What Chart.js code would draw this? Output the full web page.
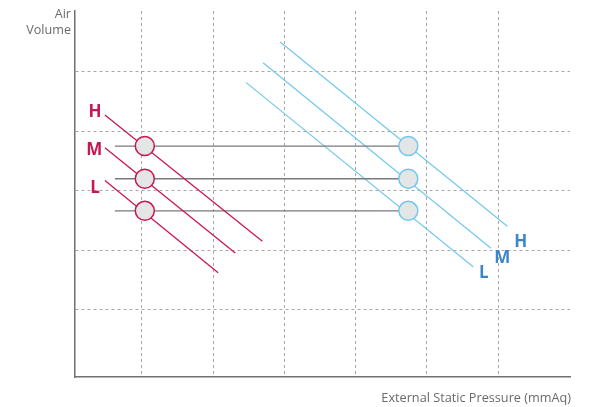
<!DOCTYPE html>
<html>
<head>
<meta charset="utf-8">
<script src="https://cdn.jsdelivr.net/npm/chart.js@4"></script>
<style>
  html, body { margin: 0; padding: 0; background: #fff; }
  #wrap { width: 598px; height: 407px; position: relative; }
</style>
</head>
<body>
<div id="wrap"><canvas id="c" width="598" height="407"></canvas></div>
<script>
// ---- data (axis units: pressure on x, air volume on y) ----
const speeds = ['H', 'M', 'L'];
const xGrid = [1, 2, 3, 4, 5, 6];
const yGrid = [1, 2, 3, 4, 5];
const redStart = [[0.48, 4.27], [0.48, 3.72], [0.48, 3.17]];
const redEnd = [[2.69, 2.15], [2.31, 1.95], [2.07, 1.62]];
const blueStart = [[2.94, 5.50], [2.70, 5.15], [2.46, 4.82]];
const blueEnd = [[6.13, 2.40], [5.90, 2.03], [5.65, 1.72]];
const opVolume = [3.75, 3.20, 2.66];
const redOpPressure = 1.04;
const blueOpPressure = 4.74;
const guideStart = 0.62;
const redLabelPos = [[0.34, 4.32], [0.33, 3.68], [0.34, 3.05]];
const blueLabelPos = [[6.32, 2.13], [6.06, 1.87], [5.80, 1.62]];
const xTitle = 'External Static Pressure (mmAq)';
const yTitle = ['Air', 'Volume'];

const RED = '#c8174f';
const BLUE_LINE = '#72c8ec';
const BLUE_TXT = '#3a86c8';

const pt = p => ({ x: p[0], y: p[1] });
const datasets = [];
speeds.forEach((s, i) => {
  datasets.push({ type: 'line', label: 'red ' + s, data: [pt(redStart[i]), pt(redEnd[i])],
    borderColor: RED, borderWidth: 1.3, pointRadius: 0, order: 2 });
  datasets.push({ type: 'line', label: 'blue ' + s, data: [pt(blueStart[i]), pt(blueEnd[i])],
    borderColor: BLUE_LINE, borderWidth: 1.2, pointRadius: 0, order: 2 });
  datasets.push({ type: 'line', label: 'guide ' + s,
    data: [{ x: guideStart, y: opVolume[i] }, { x: blueOpPressure, y: opVolume[i] }],
    borderColor: '#7a7a7a', borderWidth: 1.3, pointRadius: 0, order: 2 });
});
datasets.push({ type: 'scatter', label: 'red points',
  data: opVolume.map(v => ({ x: redOpPressure, y: v })),
  backgroundColor: '#e4e5e7', borderColor: RED, borderWidth: 1.5, pointRadius: 9.5, order: 0 });
datasets.push({ type: 'scatter', label: 'blue points',
  data: opVolume.map(v => ({ x: blueOpPressure, y: v })),
  backgroundColor: '#e4e5e7', borderColor: BLUE_LINE, borderWidth: 1.5, pointRadius: 9.5, order: 0 });

const textPlugin = {
  id: 'texts',
  afterDatasetsDraw(chart) {
    const { ctx, scales: { x, y }, chartArea } = chart;
    ctx.save();
    ctx.textAlign = 'center';
    ctx.textBaseline = 'middle';
    ctx.font = 'bold 17px "Open Sans", sans-serif';
    speeds.forEach((s, i) => {
      ctx.fillStyle = RED;
      ctx.fillText(s, x.getPixelForValue(redLabelPos[i][0]), y.getPixelForValue(redLabelPos[i][1]));
      ctx.fillStyle = BLUE_TXT;
      ctx.fillText(s, x.getPixelForValue(blueLabelPos[i][0]), y.getPixelForValue(blueLabelPos[i][1]));
    });
    ctx.font = '12.6px "Open Sans", sans-serif';
    ctx.fillStyle = '#6a6a6a';
    ctx.textAlign = 'right';
    ctx.fillText(yTitle[0], chartArea.left - 4, 14);
    ctx.fillText(yTitle[1], chartArea.left - 4, 30);
    ctx.font = '12.7px "Open Sans", sans-serif';
    ctx.fillText(xTitle, chartArea.right + 1, 398);
    ctx.restore();
  }
};

new Chart(document.getElementById('c'), {
  data: { datasets },
  options: {
    responsive: false,
    animation: false,
    layout: { padding: { left: 75, right: 28, top: 8, bottom: 30 } },
    plugins: { legend: { display: false }, tooltip: { enabled: false } },
    scales: {
      x: {
        type: 'linear', min: 0.06, max: 7.01,
        afterBuildTicks: sc => { sc.ticks = xGrid.map(v => ({ value: v })); },
        ticks: { display: false },
        grid: { color: '#a8a8a8', lineWidth: 1, drawTicks: false },
        border: { display: true, color: '#707070', width: 1.5, dash: [3, 3] }
      },
      y: {
        type: 'linear', min: -0.133, max: 6.02,
        afterBuildTicks: sc => { sc.ticks = yGrid.map(v => ({ value: v })); },
        ticks: { display: false },
        grid: { color: '#a8a8a8', lineWidth: 1, drawTicks: false },
        border: { display: true, color: '#707070', width: 1.5, dash: [3, 3] }
      }
    }
  },
  plugins: [textPlugin]
});
</script>
</body>
</html>
